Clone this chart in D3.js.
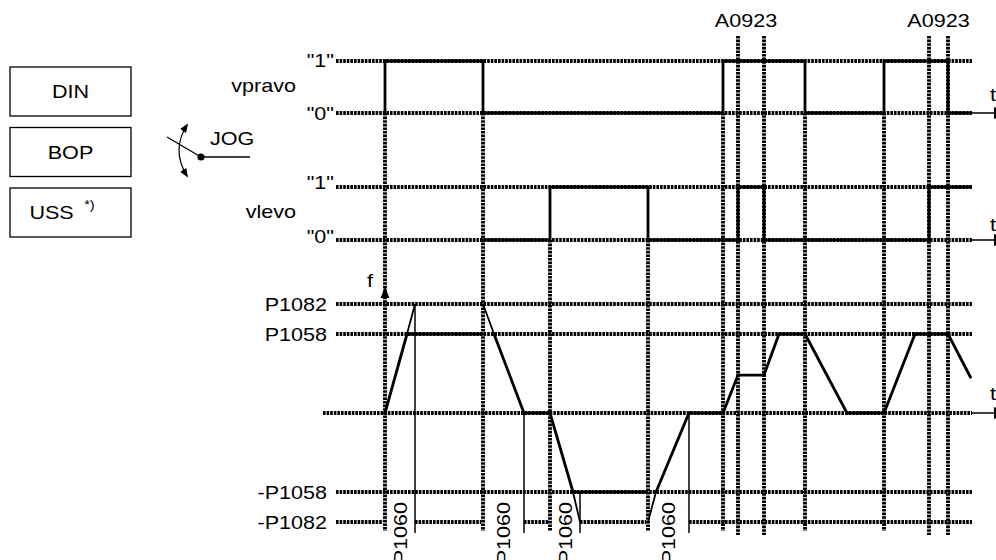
<!DOCTYPE html>
<html>
<head>
<meta charset="utf-8">
<script src="https://cdn.jsdelivr.net/npm/d3@7"></script>
<style>
	body { margin: 0; background: #fff; }
	svg { display: block; font-family: "Liberation Sans", Arial, sans-serif; }
</style>
</head>
<body>
<svg id="chart" width="996" height="560"></svg>
<script>
'use strict';

// time base: one unit per step of the drawing, 0..636
var timeEnd = 636;

// digital inputs, [time, level]
var vpravo = [[49, 0], [49, 1], [147, 1], [147, 0], [387, 0], [387, 1], [469, 1], [469, 0],
	[548, 0], [548, 1], [612, 1], [612, 0], [636, 0]];
var vlevo = [[147, 0], [214, 0], [214, 1], [312, 1], [312, 0], [402, 0], [402, 1], [428, 1],
	[428, 0], [593, 0], [593, 1], [636, 1]];

// edge times that get a dotted guide
var vpravoEdges = [49, 147, 387, 469, 548];
var vlevoEdges = [214, 312];
var alarmEdges = [402, 428, 593, 612];
var alarmLabels = ['A0923', 'A0923'];

// frequency levels (P1058 = 1)
var fLevelNames = ['P1082', 'P1058', '-P1058', '-P1082'];
var fLevelValues = [1.38, 1, -1, -1.38];

// output frequency, [time, f]
var fCurve = [
	[[49, 0], [71, 1], [147, 1]],
	[[158, 1], [188, 0], [214, 0], [237, -1], [312, -1]],
	[[320, -1], [353, 0], [387, 0], [402, 0.48], [428, 0.48], [443, 1], [469, 1], [511, 0],
		[548, 0], [579, 1], [612, 1], [635, 0.44]]
];
// ramp extension up to P1082
var fRampExt = [
	[[71, 1], [79, 1.38]],
	[[147, 1.38], [158, 1]],
	[[237, -1], [244, -1.38]],
	[[312, -1.38], [320, -1]]
];
// P1060 ramp time marks
var rampStart = [49, 147, 214, 312];
var rampEnd = [79, 188, 244, 353];
var rampTop = [1.38, 0, -1, 0];
var rampLabel = 'P1060';

var sources = ['DIN', 'BOP', 'USS'];

var svg = d3.select('#chart');

var x = d3.scaleLinear().domain([0, timeEnd]).range([336, 972]);
var yR = d3.scaleLinear().domain([0, 1]).range([113, 61]);
var yL = d3.scaleLinear().domain([0, 1]).range([240, 187]);
var yF = d3.scaleLinear().domain([-1.38, 1.38]).range([522, 304]);

var bottomY = 531, alarmTop = 36, alarmBottom = 535;
var fs = 18.6, sx = 1.16;

var line = d3.line()
	.x(function(d){ return x(d[0]); });

// text helper, glyphs are a bit wider than Arial in the original
var addText = function(g, px, py, str, anchor, size){
	return g.append('text')
		.attr('transform', 'translate(' + px + ',' + py + ') scale(' + sx + ',1)')
		.attr('text-anchor', anchor || 'start')
		.attr('font-size', size || fs)
		.text(str);
};

var dotStyle = function(sel){
	return sel.attr('stroke', '#000')
		.attr('stroke-width', 3.9)
		.attr('stroke-dasharray', '2.6,1.0')
		.attr('fill', 'none');
};
var hDot = function(y, x1, x2){
	dotStyle(svg.append('line'))
		.attr('x1', x1).attr('x2', x2).attr('y1', y).attr('y2', y);
};
var vDot = function(px, y1, y2){
	dotStyle(svg.append('line'))
		.attr('x1', px).attr('x2', px).attr('y1', y1).attr('y2', y2);
};
var solid = function(sel, w){
	return sel.attr('stroke', '#000').attr('stroke-width', w).attr('fill', 'none');
};

// ---- left boxes and JOG switch
var left = svg.append('g');
sources.map(function(s, i){
	left.append('rect')
		.attr('x', 10).attr('y', 67 + i * 60.5)
		.attr('width', 121).attr('height', 49)
		.attr('fill', 'none').attr('stroke', '#000').attr('stroke-width', 1.3);
	var t = addText(left, 70.5, 98 + i * 60.5, s, 'middle');
	if(s === 'USS'){
		t.attr('transform', 'translate(62,' + (98 + i * 60.5) + ') scale(' + sx + ',1)');
		t.append('tspan').attr('font-size', 12.5).attr('dy', -10).attr('dx', 9).text('*)');
	}
});

var defs = svg.append('defs');
defs.append('marker')
	.attr('id', 'ah').attr('viewBox', '0 0 10 10')
	.attr('refX', 8).attr('refY', 5)
	.attr('markerWidth', 9).attr('markerHeight', 9)
	.attr('markerUnits', 'userSpaceOnUse')
	.attr('orient', 'auto-start-reverse')
	.append('path').attr('d', 'M0,1 L10,5 L0,9 Z').attr('fill', '#000');

solid(left.append('path'), 1.2)
	.attr('d', 'M187,125 Q171,150 187,176')
	.attr('marker-start', 'url(#ah)').attr('marker-end', 'url(#ah)');
solid(left.append('line'), 1.3)
	.attr('x1', 167).attr('y1', 137).attr('x2', 201).attr('y2', 157);
solid(left.append('line'), 1.3)
	.attr('x1', 201).attr('y1', 157).attr('x2', 250).attr('y2', 157);
left.append('circle').attr('cx', 201).attr('cy', 157).attr('r', 3.6).attr('fill', '#000');
addText(left, 210, 145, 'JOG');

// ---- signal labels
addText(svg, 296, 92, 'vpravo', 'end');
addText(svg, 296, 218, 'vlevo', 'end');
addText(svg, 334, yR(1) + 6, '"1"', 'end');
addText(svg, 334, yR(0) + 7, '"0"', 'end');
addText(svg, 334, yL(1) + 2, '"1"', 'end');
addText(svg, 334, yL(0) + 3, '"0"', 'end');

// ---- horizontal guides
[yR(1), yR(0), yL(1), yL(0)].map(function(y){ hDot(y, x(0), x(timeEnd)); });
hDot(yF(0), 323, x(timeEnd));
fLevelValues.map(function(v, i){
	if(v === -1.38){
		// broken where the P1060 labels sit
		var cuts = [0];
		rampStart.map(function(s, j){ cuts.push(s - 2, rampEnd[j]); });
		cuts.push(timeEnd);
		for(var k = 0; k < cuts.length; k += 2)
			hDot(yF(v), x(cuts[k]), x(cuts[k + 1]));
	} else {
		hDot(yF(v), x(0), x(timeEnd));
	}
	addText(svg, 327, yF(v) + 7, fLevelNames[i], 'end');
});

// ---- vertical guides
vpravoEdges.map(function(t){ vDot(x(t), yR(0), bottomY); });
vlevoEdges.map(function(t){ vDot(x(t), yL(0), bottomY); });
alarmEdges.map(function(t){ vDot(x(t), alarmTop, alarmBottom); });
alarmLabels.map(function(s, i){
	var mid = (x(alarmEdges[i * 2]) + x(alarmEdges[i * 2 + 1])) / 2;
	addText(svg, mid - (i === 0 ? 5 : 0), 27, s, 'middle');
});

// ---- time axes
[yR(0), yL(0), yF(0)].map(function(y, i){
	solid(svg.append('line'), 1.5)
		.attr('x1', x(timeEnd)).attr('x2', 996).attr('y1', y).attr('y2', y);
	svg.append('path').attr('fill', '#000')
		.attr('d', 'M994,' + (y - 6) + ' L1010,' + y + ' L994,' + (y + 6) + ' Z');
	addText(svg, 990, y - [12, 9, 13][i], 't');
});

// f axis arrow
svg.append('path').attr('fill', '#000')
	.attr('d', 'M' + x(49) + ',287 L' + (x(49) + 4.5) + ',298 L' + (x(49) - 4.5) + ',298 Z');
addText(svg, 367, 287, 'f');

// ---- signals
solid(svg.append('path'), 2.8)
	.attr('d', line.y(function(d){ return yR(d[1]); })(vpravo));
solid(svg.append('path'), 2.8)
	.attr('d', line.y(function(d){ return yL(d[1]); })(vlevo));

// ---- frequency
line.y(function(d){ return yF(d[1]); });
fCurve.map(function(seg){
	solid(svg.append('path'), 2.8).attr('d', line(seg));
});
fRampExt.map(function(seg){
	solid(svg.append('path'), 1.8).attr('d', line(seg));
});

// ---- P1060 marks
rampEnd.map(function(t, i){
	solid(svg.append('line'), 1.5)
		.attr('x1', x(t)).attr('x2', x(t))
		.attr('y1', yF(rampTop[i])).attr('y2', 533);
	var cx = (x(rampStart[i]) + x(t)) / 2;
	svg.append('text')
		.attr('transform', 'translate(' + (cx + 6.6) + ',502) rotate(-90) scale(' + sx + ',1)')
		.attr('text-anchor', 'end')
		.attr('font-size', fs)
		.text(rampLabel);
});
</script>
</body>
</html>
